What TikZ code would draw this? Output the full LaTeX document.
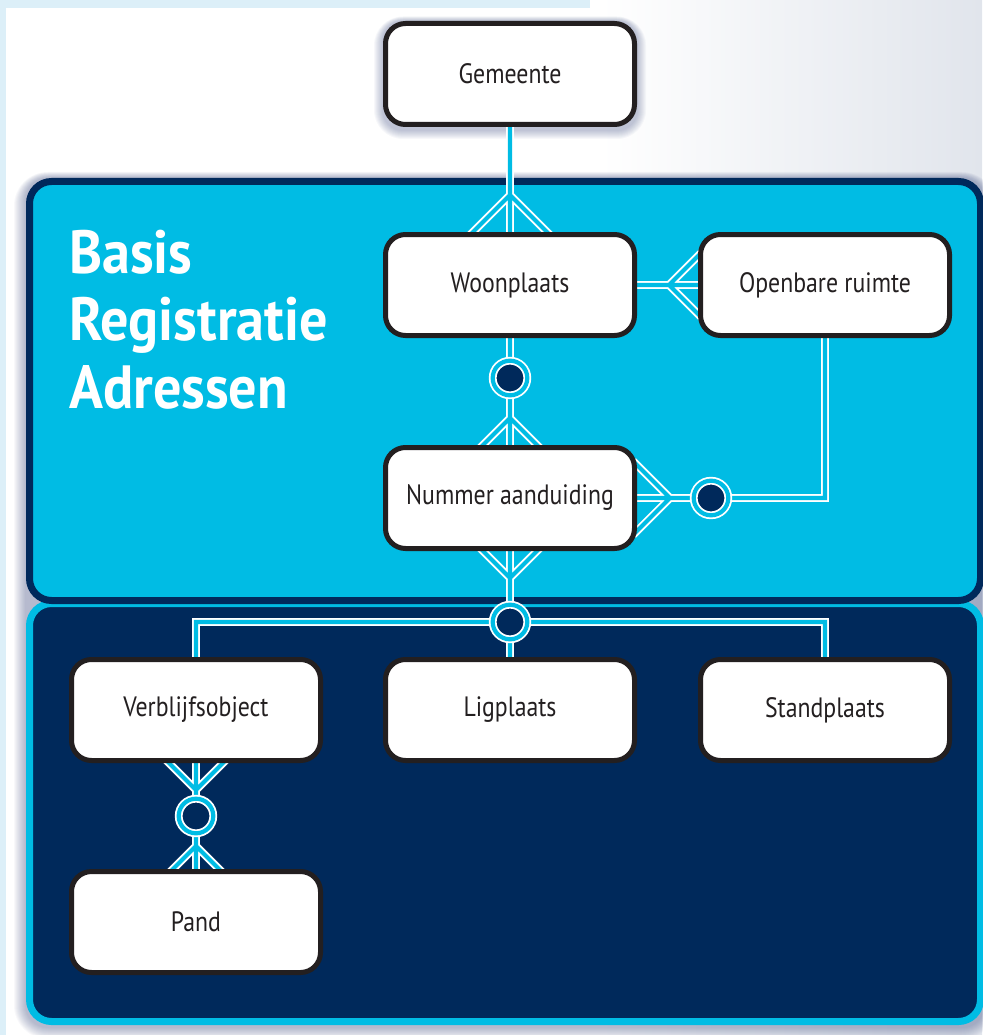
\documentclass[tikz,border=0pt]{standalone}
\usepackage{fontspec}
\setmainfont{PT Sans}
\newfontfamily\boxfont[FakeStretch=0.85]{PT Sans}
\newfontfamily\titlefont[FakeStretch=0.92]{PT Sans}
\usetikzlibrary{calc}
\definecolor{bgblue}{HTML}{DCEFF8}
\definecolor{cyanB}{HTML}{00BCE4}
\definecolor{navy}{HTML}{00295B}
\definecolor{boxline}{HTML}{231F20}
\definecolor{shadowc}{HTML}{3A4A80}
\definecolor{greyr}{HTML}{E1E5EC}
\pgfdeclarelayer{bg}
\pgfdeclarelayer{mid}
\pgfsetlayers{bg,mid,main}
\begin{document}
\begin{tikzpicture}[x=1pt,y=-1pt,
  entity/.style={draw=boxline, line width=5, fill=white, rounded corners=20,
    minimum width=249, minimum height=101, inner sep=0,
    font=\boxfont\fontsize{28}{32}\selectfont, text=boxline},
  conn/.style={draw=white, line width=1.8, double=cyanB, double distance=4.2},
  ring/.style={circle, draw=white, line width=1.8, double=cyanB, double distance=4.2,
    fill=navy, minimum size=34.6, inner sep=0}
]
\useasboundingbox (0,0) rectangle (982,1035);

% entities
\node[entity] (gem) at (510,74) {Gemeente};
\node[entity] (woon) at (510,285) {Woonplaats};
\node[entity] (open) at (825,285) {Openbare ruimte};
\node[entity] (num) at (510,498) {Nummer aanduiding};
\node[entity] (verb) at (196,710) {Verblijfsobject};
\node[entity] (lig) at (510,710) {Ligplaats};
\node[entity] (stand) at (825,710) {Standplaats};
\node[entity] (pand) at (196,922) {Pand};

\node[anchor=base west, align=left, text=white, inner sep=0,
  font=\titlefont\bfseries\fontsize{61}{67.5}\selectfont] (title) at (69,408)
  {Basis\\Registratie\\Adressen};

% rings
\node[ring] (c1) at ($(woon.south)+(0,40)$) {};
\node[ring] (c2) at ($(num.east)+(74,0)$) {};
\node[ring] (c3) at ($(num.south)+(0,71)$) {};
\node[ring] (c4) at ($(verb.south)+(0,53)$) {};

% fork points
\coordinate (f1) at ($(woon.north)+(0,-37)$);
\coordinate (f2) at ($(num.north)+(0,-27)$);
\coordinate (f3) at ($(open.west)+(-29,0)$);
\coordinate (f4) at ($(num.east)+(33,0)$);
\coordinate (f5) at ($(num.south)+(0,27)$);
\coordinate (f6) at ($(verb.south)+(0,27)$);
\coordinate (f7) at ($(pand.north)+(0,-23)$);

\begin{pgfonlayer}{bg}
  \fill[white] (0,0) rectangle (982,1035);
  \shade[left color=white, right color=greyr] (600,0) rectangle (982,1035);
  \fill[bgblue] (0,0) rectangle (590,8);
  \fill[bgblue] (0,0) rectangle (6,1035);
  % panel shadow
  \foreach \i in {1,...,12} {
    \fill[shadowc, opacity=0.035, rounded corners=22+\i]
      (26-\i,178-\i/2) rectangle (984+\i,1027+\i);
  }
  % gemeente shadow
  \foreach \i in {1,...,9} {
    \fill[shadowc, opacity=0.04, rounded corners=20+\i]
      ($(gem.north west)+(-\i,-\i/2)$) rectangle ($(gem.south east)+(\i,\i+3)$);
  }
  % panels
  \draw[cyanB, line width=7, fill=navy, rounded corners=22]
    (29.5,603.5) rectangle (980.5,1021.5);
  \draw[navy, line width=7, fill=cyanB, rounded corners=22]
    (29.5,181.5) rectangle (980.5,600.5);
\end{pgfonlayer}

\begin{pgfonlayer}{mid}
  % Gemeente - Woonplaats
  \draw[conn] (gem.south) -- (f1) -- ($(woon.north)+(0,4)$)
    (f1) -- ($(woon.north)+(-41,4)$) (f1) -- ($(woon.north)+(41,4)$);
  % Woonplaats - Openbare ruimte
  \draw[conn] (woon.east) -- (f3) -- ($(open.west)+(4,0)$)
    (f3) -- ($(open.west)+(4,-33)$) (f3) -- ($(open.west)+(4,33)$);
  % Woonplaats - Nummer aanduiding
  \draw[conn] ($(woon.south)+(0,-4)$) -- (f2) -- ($(num.north)+(0,4)$)
    (f2) -- ($(num.north)+(-31,4)$) (f2) -- ($(num.north)+(31,4)$);
  % Openbare ruimte - Nummer aanduiding
  \draw[conn] ($(open.south)+(0,-4)$) |- (f4) -- ($(num.east)+(-4,0)$)
    (f4) -- ($(num.east)+(-4,-37)$) (f4) -- ($(num.east)+(-4,37)$);
  % Nummer aanduiding - objects
  \draw[conn] ($(verb.north)+(0,4)$) |- (c3.center) -| ($(stand.north)+(0,4)$)
    (c3.center) -- ($(lig.north)+(0,4)$)
    (c3.center) -- (f5) -- ($(num.south)+(0,-4)$)
    (f5) -- ($(num.south)+(-31,-4)$) (f5) -- ($(num.south)+(31,-4)$);
  % Verblijfsobject - Pand
  \draw[conn] (f6) -- (f7)
    (f6) -- ($(verb.south)+(0,-4)$) (f6) -- ($(verb.south)+(-31,-4)$) (f6) -- ($(verb.south)+(31,-4)$)
    (f7) -- ($(pand.north)+(0,4)$) (f7) -- ($(pand.north)+(-27,4)$) (f7) -- ($(pand.north)+(27,4)$);
\end{pgfonlayer}
\end{tikzpicture}
\end{document}
